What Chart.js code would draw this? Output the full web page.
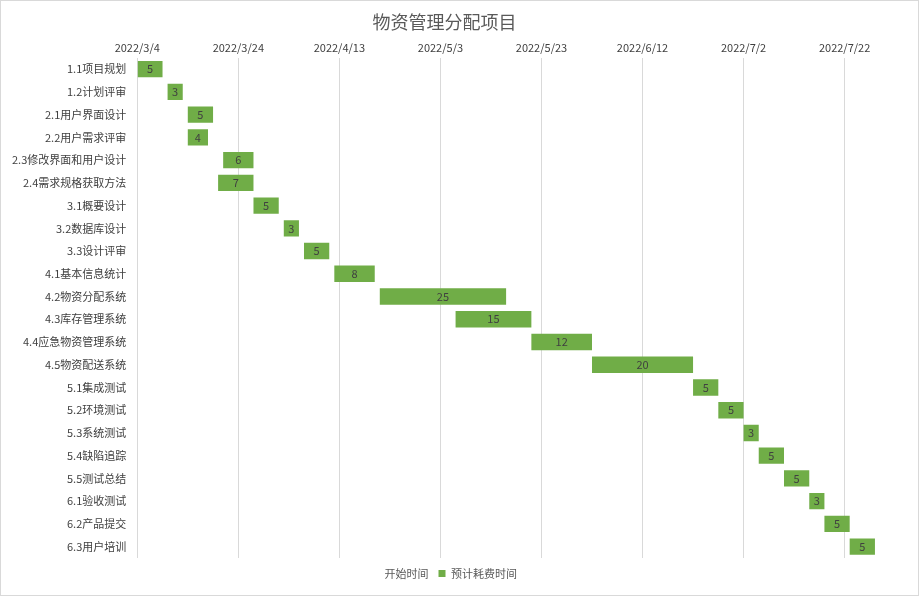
<!DOCTYPE html>
<html>
<head>
<meta charset="utf-8">
<script src="https://cdn.jsdelivr.net/npm/chart.js@4.4.0/dist/chart.umd.min.js"></script>
<style>
  body { margin: 0; background: #fff; }
  #wrap { position: absolute; left: 0; top: 0; width: 917px; height: 594px; border: 1px solid #d9d9d9; }
</style>
</head>
<body>
<div id="wrap"><canvas id="gantt" width="917" height="594"></canvas></div>
<script>
// task names
var tasks = ['1.1项目规划', '1.2计划评审', '2.1用户界面设计', '2.2用户需求评审', '2.3修改界面和用户设计',
  '2.4需求规格获取方法', '3.1概要设计', '3.2数据库设计', '3.3设计评审', '4.1基本信息统计',
  '4.2物资分配系统', '4.3库存管理系统', '4.4应急物资管理系统', '4.5物资配送系统', '5.1集成测试',
  '5.2环境测试', '5.3系统测试', '5.4缺陷追踪', '5.5测试总结', '6.1验收测试', '6.2产品提交', '6.3用户培训'];
// start dates
var startDates = ['2022/3/4', '2022/3/10', '2022/3/14', '2022/3/14', '2022/3/21',
  '2022/3/20', '2022/3/27', '2022/4/2', '2022/4/6', '2022/4/12',
  '2022/4/21', '2022/5/6', '2022/5/21', '2022/6/2', '2022/6/22',
  '2022/6/27', '2022/7/2', '2022/7/5', '2022/7/10', '2022/7/15', '2022/7/18', '2022/7/23'];
// planned duration in days
var durations = [5, 3, 5, 4, 6, 7, 5, 3, 5, 8, 25, 15, 12, 20, 5, 5, 3, 5, 5, 3, 5, 5];

var axisStart = new Date(2022, 2, 4);
var dayMs = 86400000;
function toDay(s) {
  var p = s.split('/');
  return Math.round((new Date(+p[0], +p[1] - 1, +p[2]) - axisStart) / dayMs);
}
function fmtDay(v) {
  var d = new Date(axisStart.getTime() + v * dayMs);
  return d.getFullYear() + '/' + (d.getMonth() + 1) + '/' + d.getDate();
}
var startDays = startDates.map(toDay);

var barLabels = {
  id: 'barLabels',
  afterDatasetsDraw: function(chart) {
    var ctx = chart.ctx;
    var meta = chart.getDatasetMeta(1);
    ctx.save();
    ctx.fillStyle = '#404040';
    ctx.font = '11px "Noto Sans CJK SC", "Noto Sans", sans-serif';
    ctx.textAlign = 'center';
    ctx.textBaseline = 'middle';
    meta.data.forEach(function(bar, i) {
      ctx.fillText(durations[i], (bar.x + bar.base) / 2, bar.y);
    });
    ctx.restore();
  }
};

Chart.defaults.font.family = '"Noto Sans CJK SC", "Noto Sans", sans-serif';
Chart.defaults.color = '#595959';

new Chart(document.getElementById('gantt'), {
  type: 'bar',
  data: {
    labels: tasks,
    datasets: [
      { label: '开始时间', data: startDays, backgroundColor: 'rgba(0,0,0,0)', barPercentage: 0.72, categoryPercentage: 1 },
      { label: '预计耗费时间', data: durations, backgroundColor: '#70ad47', barPercentage: 0.72, categoryPercentage: 1 }
    ]
  },
  options: {
    indexAxis: 'y',
    responsive: false,
    animation: false,
    layout: { padding: { left: 8, right: 38, top: 0, bottom: 6 } },
    plugins: {
      title: { display: true, text: '物资管理分配项目', color: '#595959', font: { size: 18, weight: 'normal' }, padding: { top: 10, bottom: 6 } },
      legend: { position: 'bottom', labels: { boxWidth: 7, boxHeight: 7, font: { size: 11 }, color: '#595959' } },
      tooltip: { enabled: false }
    },
    scales: {
      x: {
        type: 'linear', position: 'top', stacked: true, min: 0, max: 147,
        afterBuildTicks: function(scale) { scale.ticks = scale.ticks.filter(function(t) { return t.value % 20 === 0; }); },
        ticks: { stepSize: 20, callback: fmtDay, font: { size: 11 }, color: '#404040' },
        grid: { color: '#d9d9d9', drawTicks: false },
        border: { display: false }
      },
      y: {
        stacked: true,
        ticks: { font: { size: 11 }, color: '#404040', autoSkip: false },
        grid: { display: false },
        border: { display: false }
      }
    }
  },
  plugins: [barLabels]
});
</script>
</body>
</html>
